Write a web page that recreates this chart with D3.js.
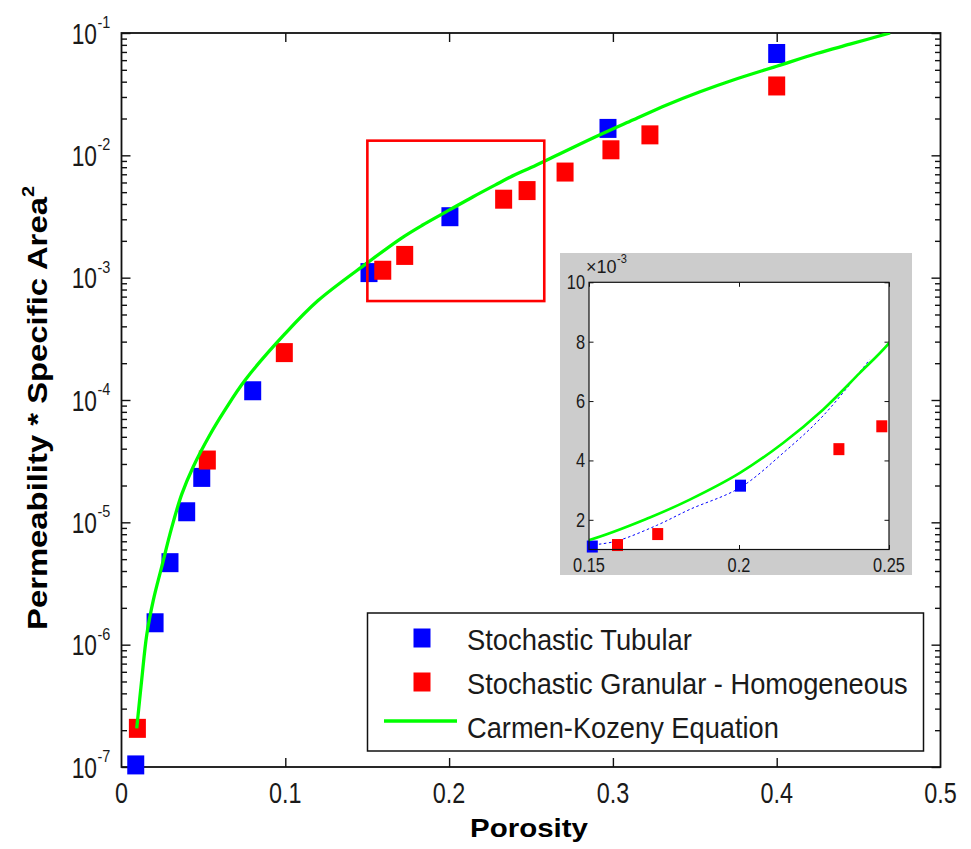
<!DOCTYPE html>
<html><head><meta charset="utf-8">
<script src="https://cdn.jsdelivr.net/npm/d3@7"></script>
<style>body{margin:0;background:#fff} svg{display:block}</style>
</head><body>
<svg id="c" width="971" height="849"></svg>
<script>
// ---------- data ----------
const tubularPorosity = [0.0087, 0.0205, 0.0296, 0.0398, 0.049, 0.0801, 0.1511, 0.2005, 0.297, 0.4];
const tubularValue    = [1.04e-7, 1.51e-6, 4.68e-6, 1.22e-5, 2.33e-5, 1.19e-4, 1.10e-3, 3.15e-3, 1.66e-2, 6.8e-2];
const granularPorosity = [0.0097, 0.0524, 0.0994, 0.1595, 0.1729, 0.2333, 0.2476, 0.2708, 0.2988, 0.3226, 0.4];
const granularValue    = [2.07e-7, 3.23e-5, 2.44e-4, 1.15e-3, 1.52e-3, 4.38e-3, 5.15e-3, 7.3e-3, 1.11e-2, 1.47e-2, 3.69e-2];
const ckPorosity = [0.0093, 0.0123, 0.0154, 0.0194, 0.0245, 0.0306, 0.0368, 0.0438, 0.054, 0.0632, 0.0754, 0.1, 0.12,
                    0.15, 0.1703, 0.1836, 0.2003, 0.2147, 0.228, 0.2402, 0.25, 0.2677, 0.2921, 0.3125, 0.3328,
                    0.3532, 0.3735, 0.4, 0.4244, 0.4447, 0.4692];
const ckValue = [2.07e-7, 5.1e-7, 1.2e-6, 2.3e-6, 4.3e-6, 9.0e-6, 1.7e-5, 2.85e-5, 5.2e-5, 8.3e-5, 1.45e-4, 3.5e-4, 6.5e-4,
                 1.32e-3, 2.08e-3, 2.68e-3, 3.58e-3, 4.59e-3, 5.71e-3, 6.94e-3, 7.95e-3, 1.03e-2, 1.47e-2, 1.95e-2, 2.58e-2,
                 3.31e-2, 4.13e-2, 5.35e-2, 6.8e-2, 8.1e-2, 0.1];
const tubularFitPorosity = [0.15, 0.159, 0.1725, 0.1836, 0.2003, 0.2147, 0.228, 0.2435];
const tubularFitValue    = [1.14e-3, 1.28e-3, 1.81e-3, 2.35e-3, 3.08e-3, 4.25e-3, 5.5e-3, 7.39e-3];
const xTicks = [0, 0.1, 0.2, 0.3, 0.4, 0.5];
const xTickLabels = ["0", "0.1", "0.2", "0.3", "0.4", "0.5"];
const yTickExponents = [-7, -6, -5, -4, -3, -2, -1];
const insetXTicks = [0.15, 0.2, 0.25];
const insetXTickLabels = ["0.15", "0.2", "0.25"];
const insetYTicks = [2, 4, 6, 8, 10];           // × 10^-3
const zoomBoxX = [0.1501, 0.2581];
const zoomBoxY = [6.44e-4, 1.318e-2];
const legendLabels = ["Stochastic Tubular", "Stochastic Granular - Homogeneous", "Carmen-Kozeny Equation"];
const xTitle = "Porosity";
const yTitle = "Permeability * Specific Area";

// ---------- setup ----------
const svg = d3.select("#c");
const FONT = "'Liberation Sans', Arial, sans-serif";
const AX = "#111";
const M = {l: 121.5, r: 940.5, t: 33, b: 767};
const x = d3.scaleLinear().domain([0, 0.5]).range([M.l, M.r]);
const y = d3.scaleLog().domain([1e-7, 1e-1]).range([M.b, M.t]);

const tubular = tubularPorosity.map((p, i) => ({p, v: tubularValue[i]}));
const granular = granularPorosity.map((p, i) => ({p, v: granularValue[i]}));
const ck = ckPorosity.map((p, i) => ({p, v: ckValue[i]}));
const tubFit = tubularFitPorosity.map((p, i) => ({p, v: tubularFitValue[i]}));

const defs = svg.append("defs");
defs.append("clipPath").attr("id", "mainClip").append("rect")
  .attr("x", M.l).attr("y", M.t).attr("width", M.r - M.l).attr("height", M.b - M.t);

// ---------- main axes ----------
const majorY = yTickExponents.map(e => Math.pow(10, e));
const minorY = [];
yTickExponents.slice(0, -1).forEach(e => { for (let k = 2; k <= 9; k++) minorY.push(k * Math.pow(10, e)); });
const innerX = xTicks.slice(1, -1);

function styleAxis(g) {
  g.select(".domain").remove();
  g.selectAll("line").attr("stroke", AX).attr("stroke-width", 1.4);
}
svg.append("g").attr("transform", `translate(${M.l},0)`).call(d3.axisLeft(y).tickValues(majorY).tickSize(-9).tickFormat("")).call(styleAxis);
svg.append("g").attr("transform", `translate(${M.l},0)`).call(d3.axisLeft(y).tickValues(minorY).tickSize(-5.5).tickFormat("")).call(styleAxis);
svg.append("g").attr("transform", `translate(${M.r},0)`).call(d3.axisRight(y).tickValues(majorY).tickSize(-9).tickFormat("")).call(styleAxis);
svg.append("g").attr("transform", `translate(${M.r},0)`).call(d3.axisRight(y).tickValues(minorY).tickSize(-5.5).tickFormat("")).call(styleAxis);
svg.append("g").attr("transform", `translate(0,${M.b})`).call(d3.axisBottom(x).tickValues(innerX).tickSize(-9).tickFormat("")).call(styleAxis);
svg.append("g").attr("transform", `translate(0,${M.t})`).call(d3.axisTop(x).tickValues(innerX).tickSize(-9).tickFormat("")).call(styleAxis);
svg.append("rect").attr("x", M.l).attr("y", M.t).attr("width", M.r - M.l).attr("height", M.b - M.t)
  .attr("fill", "none").attr("stroke", AX).attr("stroke-width", 1.8);

// tick labels
xTicks.forEach((t, i) => {
  svg.append("text").attr("transform", `translate(${x(t)},803) scale(0.78,1)`)
    .attr("text-anchor", "middle").attr("font-family", FONT).attr("font-size", 30).attr("fill", "#1a1a1a")
    .text(xTickLabels[i]);
});
yTickExponents.forEach(e => {
  const yy = y(Math.pow(10, e));
  svg.append("text").attr("transform", `translate(97,${yy + 10.5}) scale(0.76,1)`)
    .attr("text-anchor", "end").attr("font-family", FONT).attr("font-size", 30).attr("fill", "#1a1a1a").text("10");
  svg.append("text").attr("transform", `translate(97.5,${yy - 5}) scale(0.85,1)`)
    .attr("text-anchor", "start").attr("font-family", FONT).attr("font-size", 17).attr("fill", "#1a1a1a").text(String(e));
});

// titles
function fitWidth(sel, target) {
  const w = sel.node().getComputedTextLength();
  return target / w;
}
const xt = svg.append("text").attr("font-family", FONT).attr("font-weight", "bold").attr("font-size", 25)
  .attr("text-anchor", "middle").attr("fill", "#000").text(xTitle);
xt.attr("transform", `translate(529,837) scale(${fitWidth(xt, 118)},1)`);

const yt = svg.append("text").attr("font-family", FONT).attr("font-weight", "bold").attr("font-size", 28)
  .attr("text-anchor", "start").attr("fill", "#000");
const ytMain = yt.append("tspan").text(yTitle);
const ytW = ytMain.node().getComputedTextLength();
const ys = 433 / ytW;
yt.append("tspan").attr("font-size", 17).attr("dy", -13).text("2");
yt.attr("transform", `translate(46.7,630) rotate(-90) scale(${ys},1)`);

// ---------- main marks ----------
const MW = 17, MH = 19;
svg.append("g").selectAll("rect").data(tubular).join("rect")
  .attr("x", d => x(d.p) - MW / 2).attr("y", d => y(d.v) - MH / 2).attr("width", MW).attr("height", MH).attr("fill", "#0000ff");
svg.append("g").selectAll("rect").data(granular).join("rect")
  .attr("x", d => x(d.p) - MW / 2).attr("y", d => y(d.v) - MH / 2).attr("width", MW).attr("height", MH).attr("fill", "#ff0000");
const lineMain = d3.line().x(d => x(d.p)).y(d => y(d.v)).curve(d3.curveCatmullRom.alpha(0.5));
svg.append("path").datum(ck).attr("d", lineMain).attr("fill", "none").attr("stroke", "#00ff00")
  .attr("stroke-width", 3.3).attr("clip-path", "url(#mainClip)");

// zoom box
svg.append("rect").attr("x", x(zoomBoxX[0])).attr("y", y(zoomBoxY[1]))
  .attr("width", x(zoomBoxX[1]) - x(zoomBoxX[0])).attr("height", y(zoomBoxY[0]) - y(zoomBoxY[1]))
  .attr("fill", "none").attr("stroke", "#ff0000").attr("stroke-width", 2.6);

// ---------- legend ----------
svg.append("rect").attr("x", 367.5).attr("y", 613).attr("width", 556).attr("height", 138)
  .attr("fill", "#fff").attr("stroke", AX).attr("stroke-width", 1.5);
svg.append("rect").attr("x", 422 - MW / 2).attr("y", 638 - MH / 2).attr("width", MW).attr("height", MH).attr("fill", "#0000ff");
svg.append("rect").attr("x", 422 - MW / 2).attr("y", 682 - MH / 2).attr("width", MW).attr("height", MH).attr("fill", "#ff0000");
svg.append("line").attr("x1", 384).attr("x2", 457).attr("y1", 721).attr("y2", 721).attr("stroke", "#00ff00").attr("stroke-width", 3.3);
const legendBase = [650, 694, 738];
const legendWidth = [225, 441, 312];
legendLabels.forEach((s, i) => {
  const t = svg.append("text").attr("font-family", FONT).attr("font-size", 29).attr("fill", "#1a1a1a").text(s);
  t.attr("transform", `translate(467,${legendBase[i]}) scale(${fitWidth(t, legendWidth[i])},1)`);
});

// ---------- inset ----------
const I = {l: 589, r: 889, t: 282.3, b: 549.5};
const ix = d3.scaleLinear().domain([0.15, 0.25]).range([I.l, I.r]);
const iy = d3.scaleLinear().domain([1e-3, 10e-3]).range([I.b, I.t]);
defs.append("clipPath").attr("id", "insetClip").append("rect")
  .attr("x", I.l).attr("y", I.t).attr("width", I.r - I.l).attr("height", I.b - I.t);
svg.append("rect").attr("x", 560).attr("y", 253).attr("width", 352).attr("height", 322).attr("fill", "#cccccc");
svg.append("rect").attr("x", I.l).attr("y", I.t).attr("width", I.r - I.l).attr("height", I.b - I.t).attr("fill", "#fff");

const insetYVals = insetYTicks.map(v => v * 1e-3);
function styleIn(g) { g.select(".domain").remove(); g.selectAll("line").attr("stroke", AX).attr("stroke-width", 1); }
svg.append("g").attr("transform", `translate(${I.l},0)`).call(d3.axisLeft(iy).tickValues(insetYVals).tickSize(-4.5).tickFormat("")).call(styleIn);
svg.append("g").attr("transform", `translate(${I.r},0)`).call(d3.axisRight(iy).tickValues(insetYVals).tickSize(-4.5).tickFormat("")).call(styleIn);
svg.append("g").attr("transform", `translate(0,${I.b})`).call(d3.axisBottom(ix).tickValues(insetXTicks).tickSize(-4.5).tickFormat("")).call(styleIn);
svg.append("g").attr("transform", `translate(0,${I.t})`).call(d3.axisTop(ix).tickValues(insetXTicks).tickSize(-4.5).tickFormat("")).call(styleIn);

const lineInset = d3.line().x(d => ix(d.p)).y(d => iy(d.v)).curve(d3.curveCatmullRom.alpha(0.5));
svg.append("path").datum(tubFit).attr("d", lineInset).attr("fill", "none").attr("stroke", "#0000ff")
  .attr("stroke-width", 1).attr("stroke-dasharray", "2.5,2.5").attr("clip-path", "url(#insetClip)");
const inDom = d => d.p >= 0.145 && d.p <= 0.255 && d.v >= 0.9e-3 && d.v <= 10.5e-3;
const SW = 11, SH = 12;
svg.append("g").selectAll("rect").data(tubular.filter(inDom)).join("rect")
  .attr("x", d => ix(d.p) - SW / 2).attr("y", d => iy(d.v) - SH / 2).attr("width", SW).attr("height", SH).attr("fill", "#0000ff");
svg.append("g").selectAll("rect").data(granular.filter(inDom)).join("rect")
  .attr("x", d => ix(d.p) - SW / 2).attr("y", d => iy(d.v) - SH / 2).attr("width", SW).attr("height", SH).attr("fill", "#ff0000");
svg.append("path").datum(ck).attr("d", lineInset).attr("fill", "none").attr("stroke", "#00ff00")
  .attr("stroke-width", 2.6).attr("clip-path", "url(#insetClip)");
svg.append("rect").attr("x", I.l).attr("y", I.t).attr("width", I.r - I.l).attr("height", I.b - I.t)
  .attr("fill", "none").attr("stroke", AX).attr("stroke-width", 1.2);

insetXTicks.forEach((t, i) => {
  svg.append("text").attr("transform", `translate(${ix(t)},572) scale(0.78,1)`)
    .attr("text-anchor", "middle").attr("font-family", FONT).attr("font-size", 21).attr("fill", "#1a1a1a")
    .text(insetXTickLabels[i]);
});
insetYTicks.forEach(v => {
  svg.append("text").attr("transform", `translate(585,${iy(v * 1e-3) + 7}) scale(0.78,1)`)
    .attr("text-anchor", "end").attr("font-family", FONT).attr("font-size", 21).attr("fill", "#1a1a1a").text(String(v));
});
svg.append("text").attr("transform", `translate(586,273)`)
  .attr("font-family", FONT).attr("font-size", 18).attr("fill", "#1a1a1a").text("×10");
svg.append("text").attr("transform", `translate(617,263) scale(0.85,1)`)
  .attr("font-family", FONT).attr("font-size", 13).attr("fill", "#1a1a1a").text("-3");
</script>
</body></html>
